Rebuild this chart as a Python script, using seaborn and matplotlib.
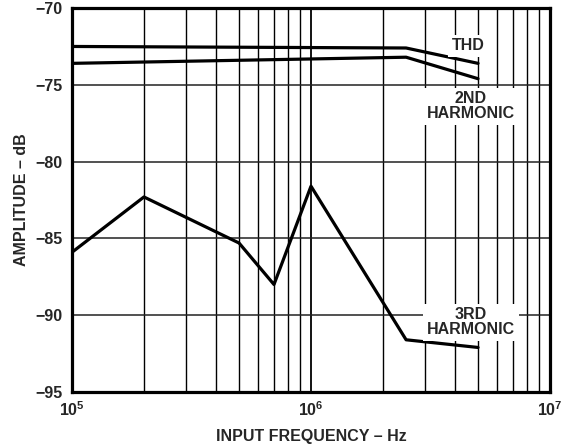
import matplotlib
matplotlib.use("Agg")
import matplotlib.pyplot as plt
import seaborn as sns
import pandas as pd
import numpy as np

# Data
thd_freq = [1e5, 2.5e6, 5e6]
thd_amp = [-72.5, -72.6, -73.6]
h2_freq = [1e5, 2.5e6, 5e6]
h2_amp = [-73.6, -73.2, -74.6]
h3_freq = [1e5, 2e5, 5e5, 7e5, 1e6, 2.5e6, 5e6]
h3_amp = [-85.9, -82.3, -85.3, -88.0, -81.6, -91.6, -92.1]

y_ticks = [-70, -75, -80, -85, -90, -95]
y_tick_labels = ["\u221270", "\u221275", "\u221280", "\u221285", "\u221290", "\u221295"]
x_ticks = [1e5, 1e6, 1e7]
x_tick_labels = [r"$\mathbf{10^5}$", r"$\mathbf{10^6}$", r"$\mathbf{10^7}$"]

df = pd.concat([
    pd.DataFrame({"freq": thd_freq, "amp": thd_amp, "series": "THD"}),
    pd.DataFrame({"freq": h2_freq, "amp": h2_amp, "series": "2ND HARMONIC"}),
    pd.DataFrame({"freq": h3_freq, "amp": h3_amp, "series": "3RD HARMONIC"}),
])

sns.set_style("white")
plt.rcParams["font.family"] = ["Liberation Sans", "DejaVu Sans"]
plt.rcParams["mathtext.fontset"] = "custom"
plt.rcParams["mathtext.bf"] = "Liberation Sans:bold"
plt.rcParams["mathtext.rm"] = "Liberation Sans"

FS = 11.5

fig = plt.figure(figsize=(5.72, 4.48), dpi=100)
ax = fig.add_axes([0.1259, 0.125, 0.8356, 0.857])

sns.lineplot(data=df, x="freq", y="amp", units="series", estimator=None,
             color="black", linewidth=2.3, sort=False, ax=ax, legend=False)

ax.set_xscale("log")
ax.set_xlim(1e5, 1e7)
ax.set_ylim(-95, -70)
ax.set_yticks(y_ticks)
ax.set_yticklabels(y_tick_labels, fontsize=FS, fontweight="bold")
ax.set_xticks(x_ticks)
ax.set_xticklabels(x_tick_labels, fontsize=FS)
ax.tick_params(axis="y", length=0, pad=7)
ax.tick_params(axis="x", length=0, pad=6)
ax.xaxis.set_minor_locator(matplotlib.ticker.LogLocator(base=10, subs=np.arange(2, 10)))
ax.xaxis.set_minor_formatter(matplotlib.ticker.NullFormatter())
ax.tick_params(axis="x", which="minor", length=0)

ax.grid(True, which="major", axis="x", color="black", linewidth=1.3)
ax.grid(True, which="minor", axis="x", color="black", linewidth=1.0)
ax.grid(True, which="major", axis="y", color="#222222", linewidth=1.1)
ax.set_axisbelow(True)
for s in ax.spines.values():
    s.set_color("black")
    s.set_linewidth(2.3)

ax.set_xlabel("INPUT FREQUENCY \u2013 Hz", fontsize=FS, fontweight="bold", labelpad=7)
ax.set_ylabel("AMPLITUDE \u2013 dB", fontsize=FS, fontweight="bold", labelpad=4)

box = dict(facecolor="white", edgecolor="none", pad=2.5)
ax.text(4.54e6, -72.45, "THD", fontsize=FS, fontweight="bold", ha="center", va="center", bbox=box)
ax.text(4.67e6, -76.4, "2ND\nHARMONIC", fontsize=FS, fontweight="bold", ha="center", va="center",
        linespacing=1.0, bbox=box)
ax.text(4.67e6, -90.45, "3RD\nHARMONIC", fontsize=FS, fontweight="bold", ha="center", va="center",
        linespacing=1.0, bbox=box)

fig.savefig("out.png", dpi=100)
